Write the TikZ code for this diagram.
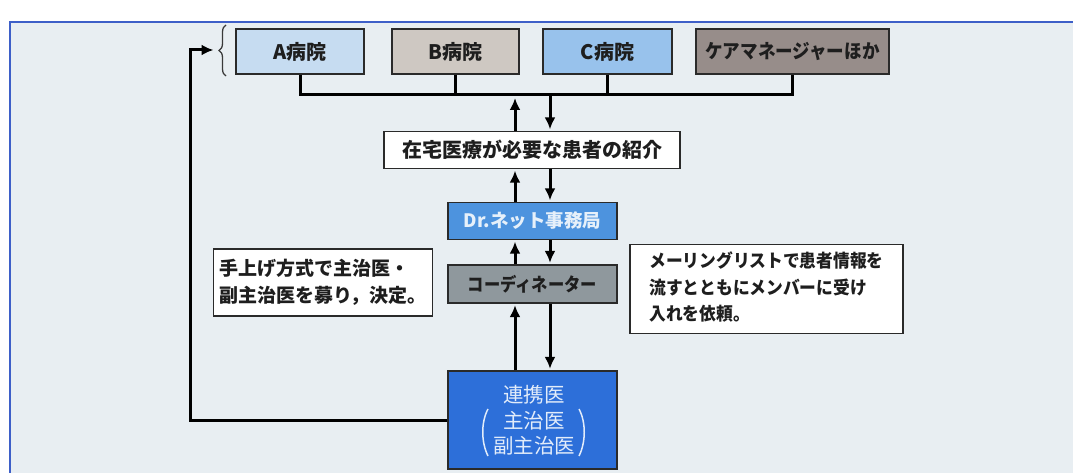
\documentclass[tikz,border=0pt]{standalone}
\usepackage{fontspec}
\setmainfont{Noto Sans CJK JP}
\usetikzlibrary{arrows.meta,decorations.pathreplacing,calc}
\definecolor{bg}{HTML}{E8EEF2}
\definecolor{framec}{HTML}{3D5FC8}
\definecolor{boxline}{HTML}{2A2A2A}
\definecolor{txt}{HTML}{1E1E1E}
\definecolor{cA}{HTML}{C6DCF1}
\definecolor{cB}{HTML}{CEC8C2}
\definecolor{cC}{HTML}{98C2EC}
\definecolor{cCare}{HTML}{978D8A}
\definecolor{cDr}{HTML}{4D93DE}
\definecolor{cDrT}{HTML}{E6F0FA}
\definecolor{cCo}{HTML}{8F989D}
\definecolor{cRen}{HTML}{2D6FD9}
\definecolor{cRenT}{HTML}{E2ECFA}
\definecolor{bracec}{HTML}{3A3A3A}
\begin{document}
\begin{tikzpicture}[x=1pt,y=-1pt,
  box/.style={draw=boxline, line width=1.3pt, inner sep=0pt, text=txt,
    font=\fontsize{20}{22}\selectfont\bfseries},
  note/.style={draw=boxline, line width=1.1pt, fill=white, inner sep=0pt, text=txt, align=left},
  rtxt/.style={inner sep=0pt, text=cRenT, font=\fontsize{20.5}{22}\selectfont},
  conn/.style={line width=3pt, draw=black},
  arr/.style={line width=3pt, draw=black, shorten >=1.5pt, -{Latex[length=12pt,width=11pt]}},
]
\useasboundingbox (0,0) rectangle (1073,473);
\fill[white] (0,0) rectangle (1073,473);
\fill[bg] (10,22) rectangle (1073,473);
\draw[framec, line width=2pt] (10,473) -- (10,22) -- (1073,22);

% top row
\node[box, fill=cA, minimum width=128pt, minimum height=45pt] (A) at (300,51.5) {A病院};
\node[box, fill=cB, minimum width=127pt, minimum height=45pt] (B) at (455.5,51.5) {B病院};
\node[box, fill=cC, minimum width=129pt, minimum height=45pt] (C) at (607.5,51.5) {C病院};
\node[box, fill=cCare, minimum width=193pt, minimum height=45pt, font=\fontsize{19.5}{22}\selectfont\bfseries] (care) at (792.5,51.5) {\scalebox{0.9}[1]{ケアマネージャーほか}};

% middle chain
\node[box, fill=white, minimum width=296pt, minimum height=37pt] (zai) at (532,150) {在宅医療が必要な患者の紹介};
\node[box, fill=cDr, text=cDrT, minimum width=169pt, minimum height=37pt, font=\fontsize{18.5}{22}\selectfont\bfseries] (dr) at (532.5,221) {Dr.ネット事務局};
\node[box, fill=cCo, minimum width=169pt, minimum height=38pt, font=\fontsize{18.5}{22}\selectfont\bfseries] (co) at (532.5,284) {\scalebox{0.88}[1]{コーディネーター}};
\node[box, fill=cRen, minimum width=169pt, minimum height=98pt] (ren) at (532.5,420) {};
\node[rtxt] (r1) at (534,395) {連携医};
\node[rtxt] (r2) at (534,421) {主治医};
\node[rtxt] (r3) at (534,446) {副主治医};
\draw[cRenT, line width=1.5pt] (488,409) .. controls (481,422) and (481,442) .. (488,456);
\draw[cRenT, line width=1.5pt] (579,409) .. controls (586,422) and (586,442) .. (579,456);

% notes
\node[note, minimum width=219pt, minimum height=67pt, font=\fontsize{19}{27}\selectfont\bfseries] (ln) at (323,282.5)
  {手上げ方式で主治医・\\副主治医を募り，決定。};
\node[note, minimum width=273pt, minimum height=89pt, font=\fontsize{18}{26.5}\selectfont\bfseries] (rn) at (766.5,289)
  {\scalebox{0.93}[1]{\begin{tabular}{@{}l@{}}メーリングリストで患者情報を\\流すとともにメンバーに受け\\入れを依頼。\end{tabular}}};

% bus
\coordinate (bus) at (0,95);
\coordinate (ux) at (515,0);
\coordinate (dx) at (550,0);
\draw[conn, line join=miter] (A.south) -- (A.south |- bus) -- (care.south |- bus) -- (care.south);
\draw[conn] (B.south) -- (B.south |- bus);
\draw[conn] (C.south) -- (C.south |- bus);

% arrows
\draw[arr] (zai.north -| ux) -- ($(bus -| ux)+(0,1.5)$);
\draw[arr] (bus -| dx) -- (zai.north -| dx);
\draw[arr] (dr.north -| ux) -- (zai.south -| ux);
\draw[arr] (zai.south -| dx) -- (dr.north -| dx);
\draw[arr] (co.north -| ux) -- (dr.south -| ux);
\draw[arr] (dr.south -| dx) -- (co.north -| dx);
\draw[arr] (ren.north -| ux) -- (co.south -| ux);
\draw[arr] (co.south -| dx) -- (ren.north -| dx);

% feedback loop
\coordinate (loopc) at (190,50);
\coordinate (bracetip) at (215,50);
\draw[arr, line join=miter] (ren.west) -| (loopc) -- (bracetip);
\draw[bracec, line width=1.3pt, decorate, decoration={brace, amplitude=7pt}] (226,76) -- (226,25);
\end{tikzpicture}
\end{document}
